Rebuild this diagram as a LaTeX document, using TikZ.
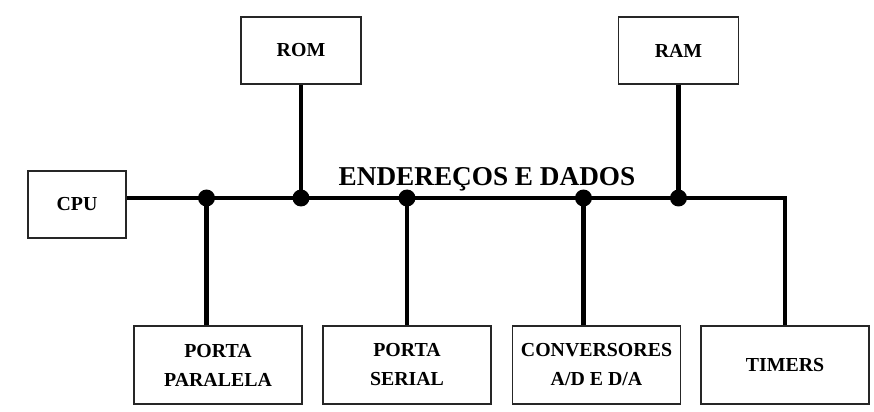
\documentclass[tikz,border=0pt]{standalone}
\usepackage{fontspec}
\setmainfont{Liberation Serif}
\usepackage{tikz}
\usetikzlibrary{positioning,calc}
\tikzset{
  unit/.style={draw=black!85, line width=0.9pt, fill=white, align=center, inner sep=1pt,
               font=\fontsize{11.3}{16.5}\selectfont\bfseries},
  small/.style={unit, minimum width=1.96cm, minimum height=1.34cm},
  mem/.style={unit, minimum width=2.4cm, minimum height=1.34cm},
  periph/.style={unit, minimum width=3.36cm, minimum height=1.56cm},
  bus/.style={line width=2.6pt},
  joint/.style={circle, fill=black, inner sep=0pt, minimum size=0.34cm},
  buslabel/.style={font=\fontsize{15.5}{18}\selectfont\bfseries, anchor=base},
}
\def\cC{1.54}
\def\cP{4.13}
\def\cR{6.02}
\def\cS{8.14}
\def\cV{11.67}
\def\cM{13.57}
\def\cT{15.70}
\def\yT{7.21}
\def\yB{4.26}
\def\yC{4.13}
\def\yL{0.92}
\begin{document}
\begin{tikzpicture}
  \useasboundingbox (0,0) rectangle (17.48,8.22);
  % units on the bus
  \node[small] (cpu) at (\cC,\yC) {CPU};
  \node[mem] (rom) at (\cR,\yT) {ROM};
  \node[mem] (ram) at (\cM,\yT) {RAM};
  \node[periph] (par) at (4.36,\yL) {PORTA\\PARALELA};
  \node[periph] (ser) at (\cS,\yL) {PORTA\\SERIAL};
  \node[periph] (conv) at (11.93,\yL) {CONVERSORES\\A/D E D/A};
  \node[periph] (tim) at (\cT,\yL) {TIMERS};
  % bus
  \coordinate (corner) at (\cT,\yB);
  \node[joint] (jP) at (\cP,\yB) {};
  \node[joint] (jR) at (\cR,\yB) {};
  \node[joint] (jS) at (\cS,\yB) {};
  \node[joint] (jV) at (\cV,\yB) {};
  \node[joint] (jM) at (\cM,\yB) {};
  \draw[bus] (cpu.east |- jP) -- (jP.center) -- (jR.center) -- (jS.center) -- (jV.center) -- (jM.center) -- (corner) -- (tim.north);
  \node[buslabel] (lbl) at (9.74,4.50) {ENDEREÇOS E DADOS};
  % taps
  \draw[bus] (rom.south) -- (jR.center);
  \draw[bus] (ram.south) -- (jM.center);
  \draw[bus] (jP.center) -- (jP |- par.north);
  \draw[bus] (jS.center) -- (ser.north);
  \draw[bus] (jV.center) -- (jV |- conv.north);
\end{tikzpicture}
\end{document}
